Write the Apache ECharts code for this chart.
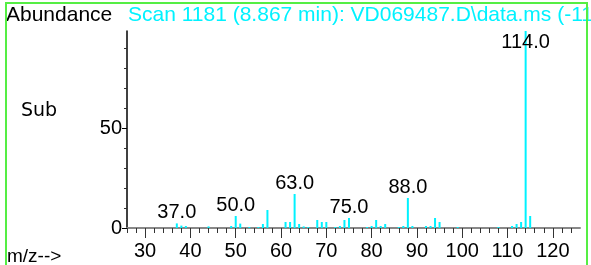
<!DOCTYPE html>
<html>
<head>
<meta charset="utf-8">
<script src="https://cdn.jsdelivr.net/npm/echarts@6/dist/echarts.min.js"></script>
<style>
html, body { margin: 0; padding: 0; background: #fff; }
#spec { width: 591px; height: 265px; }
</style>
</head>
<body>
<div id="spec"></div>
<script>
var massValues = [37, 38, 39, 44, 49, 50, 51, 53, 55, 56, 57, 61, 62, 63, 64, 65, 66, 68, 69, 70,
    72, 73, 74, 75, 79, 80, 81, 82, 83, 86, 87, 88, 89, 92, 93, 94, 95, 99, 108, 111, 112, 113, 114, 115];
var abundance = [2.3, 1.2, 1, 0.8, 1, 6, 2.2, 0.5, 0.5, 2, 9, 3, 3, 17, 2, 0.8, 0.5, 4, 3, 3,
    0.5, 1, 4, 5, 0.5, 1, 4, 1, 2, 0.5, 1, 15, 1, 1, 1, 5, 3, 0.5, 0.5, 1, 2, 3, 100, 6];
var labelledPeaks = [37, 50, 63, 75, 88, 114];
var xMinorTicks = [26, 28, 30, 32, 34, 36, 38, 40, 42, 44, 46, 48, 50, 52, 54, 56, 58, 60, 62, 64,
    66, 68, 70, 72, 74, 76, 78, 80, 82, 84, 86, 88, 90, 92, 94, 96, 98, 100, 102, 104, 106, 108,
    110, 112, 114, 116, 118, 120, 122, 124];
var xMajorTicks = [30, 40, 50, 60, 70, 80, 90, 100, 110, 120];
var yMinorTicks = [10, 20, 30, 40, 60, 70, 80, 90];
var yMajorTicks = [0, 50];
var titleText = 'Scan 1181 (8.867 min): VD069487.D\\data.ms (-1176) (-)';

var font = 'Liberation Sans, Arial, sans-serif';
var chart = echarts.init(document.getElementById('spec'));

var barData = massValues.map(function (m, i) {
    var item = { value: [m, abundance[i]] };
    if (labelledPeaks.indexOf(m) >= 0) {
        item.label = {
            show: true,
            formatter: m.toFixed(1),
            position: m === 114 ? 'insideTop' : 'top',
            distance: 1
        };
    }
    return item;
});

chart.setOption({
    animation: false,
    grid: { left: 127, right: 11, top: 31, bottom: 37 },
    graphic: [
        {
            type: 'rect',
            shape: { x: 6, y: 3, width: 581, height: 280 },
            style: { fill: 'none', stroke: '#55ee44', lineWidth: 2 },
            z: 100
        },
        {
            type: 'text', left: 6, top: 5,
            style: { text: 'Abundance', font: '21px ' + font, fill: '#000' }
        },
        {
            type: 'text', left: 128, top: 5,
            style: { text: titleText, font: '21px ' + font, fill: '#00f2ff' }
        },
        {
            type: 'text', left: 21, top: 102,
            style: { text: 'Sub', font: '19px DejaVu Sans, sans-serif', fill: '#000' }
        },
        {
            type: 'text', left: 7, top: 247,
            style: { text: 'm/z-->', font: '19px ' + font, fill: '#000' }
        }
    ],
    xAxis: [
        {
            type: 'value', min: 26, max: 126,
            splitLine: { show: false },
            axisLine: { lineStyle: { color: '#888', width: 2 } },
            axisTick: { customValues: xMinorTicks, length: 5, lineStyle: { color: '#333' } },
            axisLabel: { customValues: xMajorTicks, margin: 13, color: '#000', fontSize: 20, fontFamily: font }
        },
        {
            type: 'value', min: 26, max: 126, position: 'bottom', offset: 0,
            splitLine: { show: false },
            axisLine: { show: false },
            axisTick: { customValues: xMajorTicks, length: 10, lineStyle: { color: '#333' } },
            axisLabel: { show: false }
        }
    ],
    yAxis: [
        {
            type: 'value', min: 0, max: 98.5,
            splitLine: { show: false },
            axisLine: { show: true, lineStyle: { color: '#000', width: 1.5 } },
            axisTick: { customValues: yMinorTicks, length: 3, lineStyle: { color: '#333' } },
            axisLabel: { show: false }
        },
        {
            type: 'value', min: 0, max: 98.5, position: 'left', offset: 0,
            splitLine: { show: false },
            axisLine: { show: false },
            axisTick: { customValues: yMajorTicks, length: 5, lineStyle: { color: '#000' } },
            axisLabel: { customValues: yMajorTicks, margin: 5, color: '#000', fontSize: 20, fontFamily: font }
        }
    ],
    series: [{
        type: 'bar',
        xAxisIndex: 0,
        yAxisIndex: 0,
        barWidth: 2,
        clip: true,
        itemStyle: { color: '#00f2ff' },
        label: { color: '#000', fontSize: 20, fontFamily: font },
        data: barData
    }]
});
</script>
</body>
</html>
